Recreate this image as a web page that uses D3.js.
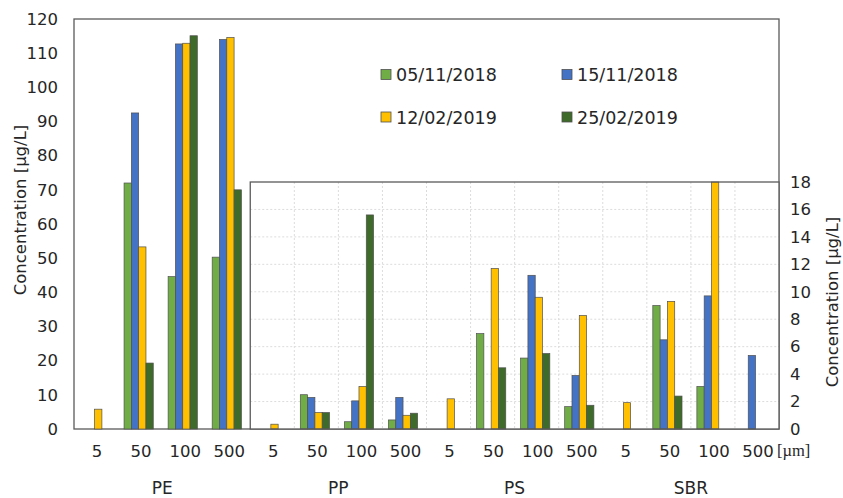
<!DOCTYPE html>
<html>
<head>
<meta charset="utf-8">
<script src="https://cdn.jsdelivr.net/npm/d3@7"></script>
<style>
	body { margin: 0; background: #fff; }
	text { font-family: "DejaVu Sans", Verdana, sans-serif; fill: #262626; }
	.bar { stroke: #505050; stroke-width: 0.7; }
	.frame { fill: none; stroke: #5a5a5a; stroke-width: 1.3; }
	.grid line { stroke: #dcdcdc; stroke-width: 1; stroke-dasharray: 2,2; }
</style>
</head>
<body>
<svg id="chart" width="843" height="498"></svg>
<script>
// polymers and particle sizes
var groups = ['PE', 'PP', 'PS', 'SBR'];
var sizes = ['5', '50', '100', '500'];
var series = ['05/11/2018', '15/11/2018', '12/02/2019', '25/02/2019'];
var colors = ['#70ad47', '#4472c4', '#ffc000', '#3e6a2a'];

// values in µg/L, order: PE(5,50,100,500), PP(...), PS(...), SBR(...)
var s0511 = [null, 72, 44.6, 50.3,   null, 2.5, 0.53, 0.66,  null, 6.95, 5.17, 1.63,  null, 9.0, 3.1, null];
var s1511 = [null, 92.5, 112.7, 114, null, 2.3, 2.05, 2.3,   null, null, 11.2, 3.9,   null, 6.5, 9.7, 5.36];
var s1202 = [5.8, 53.3, 112.9, 114.6, 0.35, 1.2, 3.1, 1.0,   2.2, 11.7, 9.6, 8.27,    1.92, 9.3, 18.0, null];
var s2502 = [null, 19.3, 115.1, 70,  null, 1.2, 15.6, 1.15,  null, 4.46, 5.5, 1.73,   null, 2.4, null, null];
var values = [s0511, s1511, s1202, s2502];

var leftTicks = [0, 10, 20, 30, 40, 50, 60, 70, 80, 90, 100, 110, 120];
var rightTicks = [0, 2, 4, 6, 8, 10, 12, 14, 16, 18];

var svg = d3.select('#chart');

var keys = [];
groups.forEach(function(g) {
	sizes.forEach(function(s) { keys.push(g + '|' + s); });
});

var x = d3.scaleBand().domain(keys).range([74, 779]);
var xs = d3.scaleBand().domain(series).range([0, 29.2]);
var yL = d3.scaleLinear().domain([0, 120]).range([429, 19]);
var yR = d3.scaleLinear().domain([0, 18]).range([429, 182]);
var barShift = 6;

// flatten to rows
var rows = [];
series.forEach(function(name, si) {
	values[si].forEach(function(v, ki) {
		if (v === null) return;
		rows.push({ key: keys[ki], group: keys[ki].split('|')[0], series: name, si: si, value: v });
	});
});

// outer frame
svg.append('rect').attr('class', 'frame')
	.attr('x', 74).attr('y', 19).attr('width', 779 - 74).attr('height', 429 - 19);

// main (PE) bars
function drawBars(g, data, y) {
	g.selectAll('rect.bar').data(data).enter().append('rect')
		.attr('class', 'bar')
		.attr('x', function(d) { return x(d.key) + barShift + xs(d.series); })
		.attr('y', function(d) { return y(d.value); })
		.attr('width', xs.bandwidth())
		.attr('height', function(d) { return y(0) - y(d.value); })
		.attr('fill', function(d) { return colors[d.si]; });
}

drawBars(svg.append('g'), rows.filter(function(d) { return d.group === 'PE'; }), yL);

// left axis labels
var leftAxis = svg.append('g').attr('transform', 'translate(74,0)')
	.call(d3.axisLeft(yL).tickValues(leftTicks).tickSize(0).tickPadding(16));
leftAxis.select('.domain').remove();
leftAxis.selectAll('text').style('font-size', '16.5px').attr('font-family', null);

svg.append('text')
	.attr('transform', 'translate(26,210) rotate(-90)')
	.attr('text-anchor', 'middle')
	.style('font-size', '16.5px')
	.text('Concentration [µg/L]');

// inset for the small polymers
var insetX0 = x(keys[4]);
var inset = svg.append('g');
inset.append('rect')
	.attr('x', insetX0).attr('y', 182).attr('width', 779 - insetX0).attr('height', 429 - 182)
	.attr('fill', '#fff');

var grid = inset.append('g').attr('class', 'grid');
grid.selectAll('line.h').data(rightTicks.slice(1, -1)).enter().append('line')
	.attr('x1', insetX0).attr('x2', 779)
	.attr('y1', function(d) { return yR(d); }).attr('y2', function(d) { return yR(d); });
grid.selectAll('line.v').data(keys.slice(5)).enter().append('line')
	.attr('x1', function(d) { return x(d); }).attr('x2', function(d) { return x(d); })
	.attr('y1', 182).attr('y2', 429);

drawBars(inset.append('g'), rows.filter(function(d) { return d.group !== 'PE'; }), yR);

inset.append('rect').attr('class', 'frame')
	.attr('x', insetX0).attr('y', 182).attr('width', 779 - insetX0).attr('height', 429 - 182);

var rightAxis = svg.append('g').attr('transform', 'translate(779,0)')
	.call(d3.axisRight(yR).tickValues(rightTicks).tickSize(0).tickPadding(11));
rightAxis.select('.domain').remove();
rightAxis.selectAll('text').style('font-size', '16.5px').attr('font-family', null);

svg.append('text')
	.attr('transform', 'translate(838,302) rotate(-90)')
	.attr('text-anchor', 'middle')
	.style('font-size', '16.5px')
	.text('Concentration [µg/L]');

// size labels and polymer labels
svg.selectAll('text.size').data(keys).enter().append('text')
	.attr('class', 'size')
	.attr('x', function(d) { return x(d) + x.bandwidth() / 2 + 1; })
	.attr('y', 457)
	.attr('text-anchor', 'middle')
	.style('font-size', '16.5px')
	.text(function(d) { return d.split('|')[1]; });

svg.append('text')
	.attr('x', 777).attr('y', 456)
	.style('font-family', '"Liberation Serif", "Times New Roman", serif')
	.style('font-size', '16.5px')
	.text('[µm]');

svg.selectAll('text.group').data(groups).enter().append('text')
	.attr('class', 'group')
	.attr('x', function(g) { return x(g + '|50') + x.bandwidth(); })
	.attr('y', 494)
	.attr('text-anchor', 'middle')
	.style('font-size', '17px')
	.text(function(g) { return g; });

// legend, two columns
var legend = svg.append('g');
var items = legend.selectAll('g').data(series).enter().append('g')
	.attr('transform', function(d, i) {
		return 'translate(' + (i % 2 === 0 ? 381 : 562) + ',' + (i < 2 ? 74.5 : 117) + ')';
	});
items.append('rect')
	.attr('x', 0).attr('y', -5).attr('width', 10).attr('height', 10)
	.attr('fill', function(d, i) { return colors[i]; })
	.attr('stroke', '#505050').attr('stroke-width', 0.8);
items.append('text')
	.attr('x', 15).attr('y', 6.5)
	.style('font-size', '17.5px')
	.text(function(d) { return d; });
</script>
</body>
</html>
